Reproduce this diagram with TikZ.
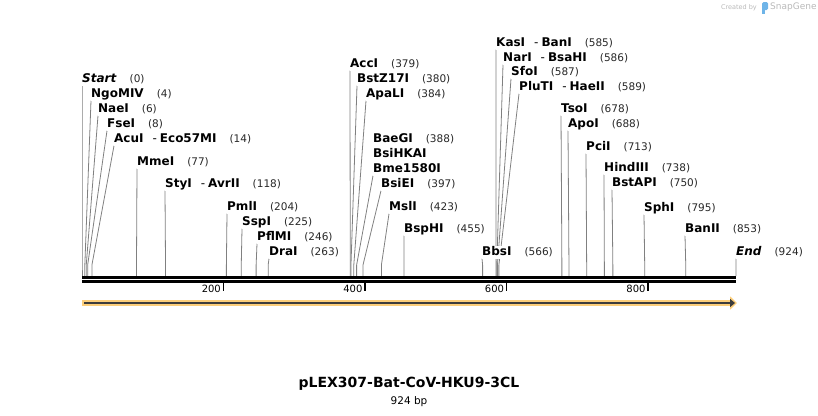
\documentclass[tikz,border=0pt]{standalone}
\usepackage{fontspec}
\setmainfont{DejaVu Sans}
\usepackage{xcolor}
\usepackage{tikz}
\usetikzlibrary{arrows.meta, positioning, calc, backgrounds}
\definecolor{SGLine}{RGB}{128, 128, 128}
\definecolor{SGNum}{RGB}{40, 40, 40}
\definecolor{SGOrange}{RGB}{252, 206, 122}
\definecolor{SGArrow}{RGB}{60, 60, 60}
\definecolor{SGLogo}{RGB}{185, 185, 185}
\definecolor{SGBlue}{RGB}{110, 180, 232}
\def\bpscale{0.707792}
% one cut site: id, bp, label x, label y, name, position
\newcommand{\cutsite}[6]{%
  \node[sitelabel] (#1) at (#3,#4) {#5\hspace{13pt}{\sitenum(#6)}};
  \coordinate (#1-bend) at ({82+#2*\bpscale},265);
  \coordinate (#1-cut) at ({82+#2*\bpscale},276);
  \begin{pgfonlayer}{background}
    \draw[siteline] (#1.south west) -- (#1-bend) -- (#1-cut);
  \end{pgfonlayer}
}
\newcommand{\sitenum}{\fontsize{10.5}{12}\selectfont\mdseries\color{SGNum}}
\newcommand{\dash}{\hspace{9pt}{\mdseries -}\hspace{3pt}}

\begin{document}
\begin{tikzpicture}[x=1pt, y=-1pt,
    sitelabel/.style={anchor=west, fill=white, inner xsep=0pt, inner ysep=1pt,
      text height=9pt, text depth=2pt,
      font=\fontsize{12}{14}\selectfont\bfseries},
    siteline/.style={draw=SGLine, line width=0.8pt},
    ticklabel/.style={anchor=east, inner sep=0pt, font=\fontsize{10}{12}\selectfont}
  ]
  \useasboundingbox (0,0) rectangle (818,415);

  % sequence backbone
  \coordinate (seqstart) at (82,279.5);
  \coordinate (seqend) at (736,279.5);
  \draw[line width=2.4pt] ([yshift=2pt]seqstart) -- ([yshift=2pt]seqend);
  \draw[line width=2.3pt] ([yshift=-2pt]seqstart) -- ([yshift=-2pt]seqend);

  % ruler
  \foreach \t in {200,400,600,800} {
    \coordinate (tick\t) at ({82+\t*\bpscale},282);
    \draw[line width=1.6pt] (tick\t) -- ++(0,9);
    \node[ticklabel] (ticklab\t) at ([xshift=-2.5pt,yshift=-7pt]tick\t) {\t};
  }

  % feature arrow
  \coordinate (featstart) at (82,303);
  \coordinate (featend) at (737,303);
  \draw[SGOrange, line width=5.5pt, -{Triangle[length=7pt, width=13pt]}] (featstart) -- (featend);
  \draw[SGArrow, line width=1.8pt, -{Triangle[length=5pt, width=8pt]}] ([xshift=2pt]featstart) -- ([xshift=-2pt]featend);

  % cut sites, left group
  \cutsite{start}{0}{82}{79}{\textit{Start}}{0}
  \cutsite{ngomiv}{4}{91}{94}{NgoMIV}{4}
  \cutsite{naei}{6}{98}{109}{NaeI}{6}
  \cutsite{fsei}{8}{107}{124}{FseI}{8}
  \cutsite{acui}{14}{114}{139}{AcuI\dash Eco57MI}{14}
  \cutsite{mmei}{77}{137}{162}{MmeI}{77}
  \cutsite{styi}{118}{165}{184}{StyI\dash AvrII}{118}
  \cutsite{pmli}{204}{227}{207}{PmlI}{204}
  \cutsite{sspi}{225}{242}{222}{SspI}{225}
  \cutsite{pflmi}{246}{257}{237}{PflMI}{246}
  \cutsite{drai}{263}{269}{252}{DraI}{263}

  % cut sites, middle group
  \cutsite{acci}{379}{350}{64}{AccI}{379}
  \cutsite{bstz17i}{380}{357}{79}{BstZ17I}{380}
  \cutsite{apali}{384}{366}{94}{ApaLI}{384}
  \node[sitelabel] (baegi) at (373,139) {BaeGI\hspace{13pt}{\sitenum(388)}};
  \node[sitelabel] (bsihkai) at (373,154) {BsiHKAI};
  \node[sitelabel] (bme1580i) at (373,169) {Bme1580I};
  \coordinate (bme1580i-bend) at ({82+388*\bpscale},265);
  \coordinate (bme1580i-cut) at ({82+388*\bpscale},276);
  \begin{pgfonlayer}{background}
    \draw[siteline] (bme1580i.south west) -- (bme1580i-bend) -- (bme1580i-cut);
  \end{pgfonlayer}
  \cutsite{bsiei}{397}{381}{184}{BsiEI}{397}
  \cutsite{msli}{423}{389}{207}{MslI}{423}
  \cutsite{bsphi}{455}{404}{229}{BspHI}{455}
  \cutsite{bbsi}{566}{482}{252}{BbsI}{566}

  % cut sites, right group
  \cutsite{kasi}{585}{496}{43}{KasI\dash BanI}{585}
  \cutsite{nari}{586}{503}{58}{NarI\dash BsaHI}{586}
  \cutsite{sfoi}{587}{511}{72}{SfoI}{587}
  \cutsite{pluti}{589}{519}{87}{PluTI\dash HaeII}{589}
  \cutsite{tsoi}{678}{561}{109}{TsoI}{678}
  \cutsite{apoi}{688}{568}{124}{ApoI}{688}
  \cutsite{pcii}{713}{586}{147}{PciI}{713}
  \cutsite{hindiii}{738}{604}{168}{HindIII}{738}
  \cutsite{bstapi}{750}{612}{183}{BstAPI}{750}
  \cutsite{sphi}{795}{644}{208}{SphI}{795}
  \cutsite{banii}{853}{685}{229}{BanII}{853}
  \cutsite{end}{924}{736}{252}{\textit{End}}{924}

  % title
  \node[font=\fontsize{14}{16}\selectfont\bfseries, inner sep=0pt] (title) at (409,384) {pLEX307-Bat-CoV-HKU9-3CL};
  \node[font=\fontsize{10.5}{12}\selectfont, inner sep=0pt, below=5pt of title] (length) {924 bp};

  % watermark
  \node[font=\fontsize{6.5}{7}\selectfont, text=SGLogo, anchor=east, inner sep=0pt] (createdby) at (757,7.5) {Created by};
  \fill[SGBlue, rounded corners=1.5pt] (762,2) rectangle (768,10);
  \fill[SGBlue] (762,8) rectangle (765,14);
  \node[font=\fontsize{9}{10}\selectfont, text=SGLogo, anchor=west, inner sep=0pt] (snapgene) at (770,7.5) {SnapGene};
\end{tikzpicture}
\end{document}
